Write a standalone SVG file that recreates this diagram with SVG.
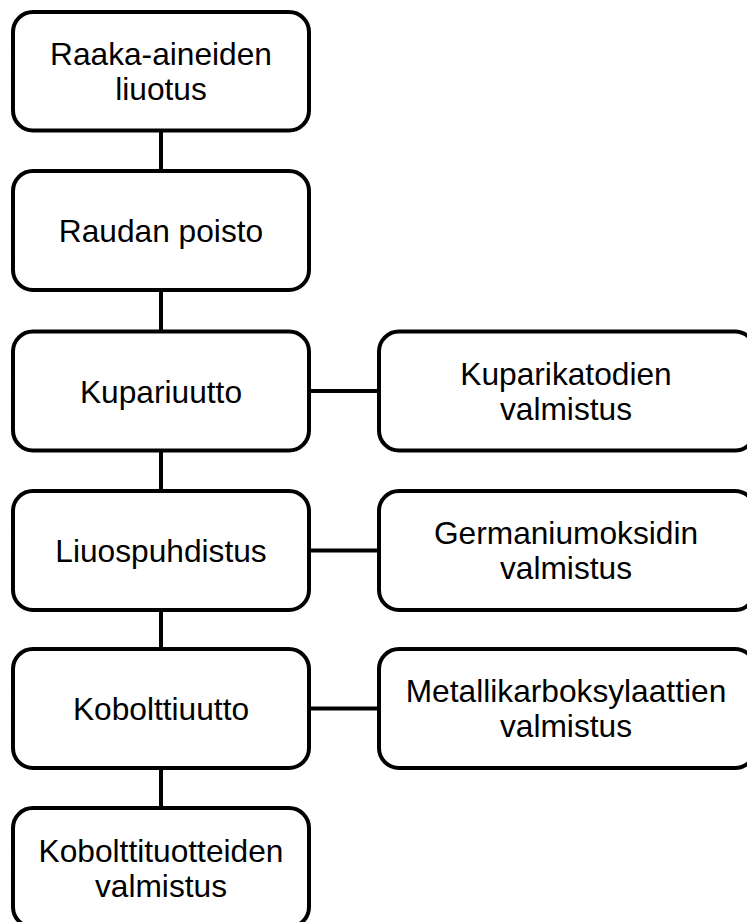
<svg xmlns="http://www.w3.org/2000/svg" width="747" height="922" viewBox="0 0 747 922">
<style>
.box{fill:#fff;stroke:#000;stroke-width:4}
.lbl{font-family:"Liberation Sans",Arial,sans-serif;font-size:31.7px;fill:#000;text-anchor:middle}
.con{stroke:#000;stroke-width:4;fill:none}
</style>
<rect width="747" height="922" fill="#fff"/>
<g id="connectors">
<line class="con" x1="161" y1="130" x2="161" y2="172"/>
<line class="con" x1="161" y1="290" x2="161" y2="332"/>
<line class="con" x1="161" y1="450" x2="161" y2="492"/>
<line class="con" x1="161" y1="610" x2="161" y2="650"/>
<line class="con" x1="161" y1="768" x2="161" y2="809"/>
<line class="con" x1="309" y1="391" x2="379" y2="391"/>
<line class="con" x1="309" y1="550.5" x2="379" y2="550.5"/>
<line class="con" x1="309" y1="708.5" x2="379" y2="708.5"/>
</g>
<g id="n1"><rect class="box" x="13" y="12" width="296" height="118.5" rx="20"/>
<text class="lbl" x="161" y="65">Raaka-aineiden</text><text class="lbl" x="161" y="100">liuotus</text></g>
<g id="n2"><rect class="box" x="13" y="171" width="296" height="119" rx="20"/>
<text class="lbl" x="161" y="242">Raudan poisto</text></g>
<g id="n3"><rect class="box" x="13" y="331.5" width="296" height="119" rx="20"/>
<text class="lbl" x="161" y="402.5">Kupariuutto</text></g>
<g id="n4"><rect class="box" x="13" y="491" width="296" height="119" rx="20"/>
<text class="lbl" x="161" y="562">Liuospuhdistus</text></g>
<g id="n5"><rect class="box" x="13" y="649" width="296" height="119" rx="20"/>
<text class="lbl" x="161" y="720">Kobolttiuutto</text></g>
<g id="n6"><rect class="box" x="13" y="808" width="296" height="119" rx="20"/>
<text class="lbl" x="161" y="862">Kobolttituotteiden</text><text class="lbl" x="161" y="897">valmistus</text></g>
<g id="n7"><rect class="box" x="379" y="331.5" width="376" height="119" rx="20"/>
<text class="lbl" x="566" y="385">Kuparikatodien</text><text class="lbl" x="566" y="420">valmistus</text></g>
<g id="n8"><rect class="box" x="379" y="491" width="376" height="119" rx="20"/>
<text class="lbl" x="566" y="544">Germaniumoksidin</text><text class="lbl" x="566" y="579">valmistus</text></g>
<g id="n9"><rect class="box" x="379" y="649" width="376" height="119" rx="20"/>
<text class="lbl" x="566" y="702">Metallikarboksylaattien</text><text class="lbl" x="566" y="737">valmistus</text></g>
</svg>
